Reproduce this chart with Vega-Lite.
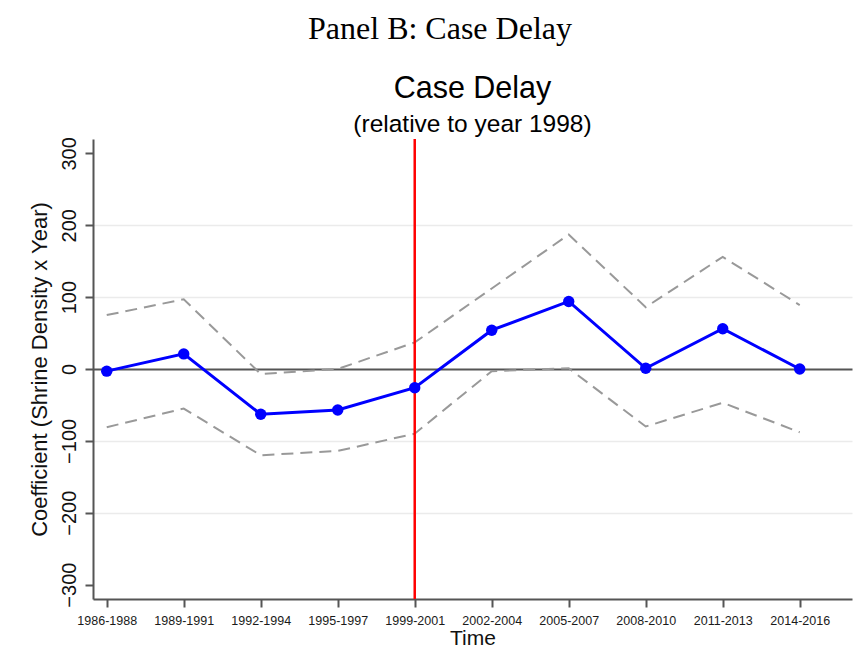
{
  "$schema": "https://vega.github.io/schema/vega-lite/v6.json",
  "background": "white",
  "padding": {"left": 28, "top": 12, "right": 5, "bottom": 5},
  "title": {"text": "Panel B: Case Delay", "font": "Liberation Serif", "fontSize": 32, "fontWeight": "normal", "color": "black", "anchor": "middle", "offset": 28},
  "config": {"view": {"stroke": null}, "concat": {"spacing": 0}},
  "vconcat": [
    {
      "width": 759,
      "height": 460,
      "title": {"text": "Case Delay", "subtitle": "(relative to year 1998)", "font": "Liberation Sans", "fontSize": 30.5, "fontWeight": "normal", "color": "black", "subtitleFont": "Liberation Sans", "subtitleFontSize": 24.5, "subtitleColor": "black", "subtitlePadding": 9, "anchor": "middle", "offset": 0},
      "data": {"values": [
        {"period": "1986-1988", "coef": -3, "upper": 75, "lower": -81},
        {"period": "1989-1991", "coef": 21, "upper": 97, "lower": -55},
        {"period": "1992-1994", "coef": -63, "upper": -7, "lower": -120},
        {"period": "1995-1997", "coef": -57, "upper": 0, "lower": -114},
        {"period": "1999-2001", "coef": -26, "upper": 37, "lower": -90},
        {"period": "2002-2004", "coef": 54, "upper": 112, "lower": -3},
        {"period": "2005-2007", "coef": 94, "upper": 187, "lower": 1},
        {"period": "2008-2010", "coef": 1, "upper": 86, "lower": -80},
        {"period": "2011-2013", "coef": 56, "upper": 156, "lower": -47},
        {"period": "2014-2016", "coef": 0, "upper": 89, "lower": -88}
      ]},
      "encoding": {
        "x": {
          "field": "period", "type": "ordinal", "sort": null,
          "scale": {"type": "point", "padding": 0.4286, "align": 0.208},
          "axis": {
            "labelAngle": 0,
            "grid": false, "domainColor": "#555555", "domainWidth": 2, "tickColor": "#555555", "tickWidth": 2, "tickSize": 8,
            "labelFont": "Liberation Sans", "labelFontSize": 12.5, "labelColor": "#1a1a1a", "labelPadding": 7,
            "title": "Time", "titleFont": "Liberation Sans", "titleFontSize": 21, "titleFontWeight": "normal", "titleColor": "#111111", "titlePadding": 1
          }
        }
      },
      "layer": [
        {
          "mark": {"type": "line", "color": "#999999", "strokeWidth": 2, "strokeDash": [12, 7]},
          "encoding": {
            "y": {
              "field": "upper", "type": "quantitative",
              "scale": {"domain": [-320, 320], "nice": false, "zero": false},
              "title": "Coefficient (Shrine Density x Year)",
              "axis": {
                "values": [-300, -200, -100, 0, 100, 200, 300],
                "grid": true,
                "gridColor": {"condition": {"test": "datum.value === 0", "value": "#555555"}, "value": "#ebebeb"},
                "gridWidth": {"condition": {"test": "datum.value === 0", "value": 2}, "value": 1.5},
                "gridOpacity": {"condition": {"test": "abs(datum.value) >= 300", "value": 0}, "value": 1},
                "domainColor": "#555555", "domainWidth": 2, "tickColor": "#555555", "tickWidth": 2, "tickSize": 8,
                "labelAngle": -90, "labelAlign": "center", "labelBaseline": "bottom", "labelPadding": 6,
                "labelFont": "Liberation Sans", "labelFontSize": 20, "labelColor": "#111111",
                "titleFont": "Liberation Sans", "titleFontSize": 22, "titleFontWeight": "normal", "titleColor": "#111111", "titlePadding": 8
              }
            }
          }
        },
        {
          "mark": {"type": "line", "color": "#999999", "strokeWidth": 2, "strokeDash": [12, 7]},
          "encoding": {"y": {"field": "lower", "type": "quantitative", "title": "Coefficient (Shrine Density x Year)"}}
        },
        {
          "data": {"values": [{"period": "1999-2001"}]},
          "mark": {"type": "rule", "color": "#ff0000", "strokeWidth": 2.5},
          "encoding": {}
        },
        {
          "mark": {"type": "line", "color": "#0000ff", "strokeWidth": 3},
          "encoding": {"y": {"field": "coef", "type": "quantitative", "title": "Coefficient (Shrine Density x Year)"}}
        },
        {
          "mark": {"type": "point", "filled": true, "color": "#0000ff", "opacity": 1, "size": 130},
          "encoding": {"y": {"field": "coef", "type": "quantitative", "title": "Coefficient (Shrine Density x Year)"}}
        }
      ]
    }
  ]
}
